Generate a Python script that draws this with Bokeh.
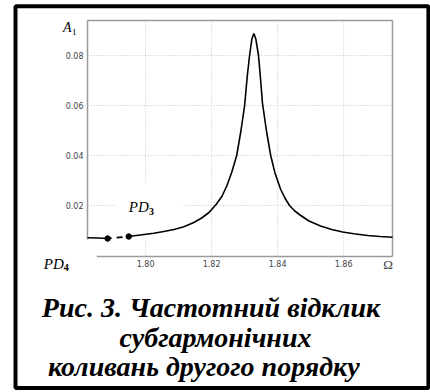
from bokeh.plotting import figure
from bokeh.models import Range1d
from bokeh.core.properties import value
from bokeh.embed import file_html
from bokeh.resources import INLINE

# ---- data ----
omega_left = [1.7824, 1.7855, 1.7885]
a_left = [0.00708, 0.0070, 0.0068]

omega_unstable = [1.7885, 1.7949]
a_unstable = [0.0068, 0.0076]

omega_main = [1.7949, 1.7995, 1.8025, 1.8055, 1.8086, 1.8116, 1.8146, 1.8170, 1.8192,
              1.8213, 1.8231, 1.8246, 1.8261, 1.8276, 1.8289, 1.8300, 1.8308, 1.8315,
              1.8322, 1.8328, 1.8334, 1.8342, 1.8348, 1.8354, 1.8366, 1.8379, 1.8392,
              1.8409, 1.8422, 1.8436, 1.8452, 1.8470, 1.8495, 1.8530, 1.8564, 1.8597,
              1.8631, 1.8673, 1.8710, 1.8748]
a_main = [0.0076, 0.0084, 0.0089, 0.0096, 0.0104, 0.0115, 0.0132, 0.0150, 0.0172,
          0.0203, 0.0236, 0.0278, 0.0333, 0.0400, 0.0500, 0.0600, 0.0717, 0.0800,
          0.0866, 0.0888, 0.0866, 0.0800, 0.0710, 0.0610, 0.0500, 0.0400, 0.0330,
          0.0265, 0.0230, 0.0200, 0.0178, 0.0160, 0.0138, 0.0118, 0.0104, 0.0094,
          0.0087, 0.0080, 0.0076, 0.0073]

pd_omega = [1.7885, 1.7949]
pd_a = [0.0068, 0.0076]

x_ticks = [1.80, 1.82, 1.84, 1.86]
x_tick_labels = ["1.80", "1.82", "1.84", "1.86"]
y_ticks = [0.02, 0.04, 0.06, 0.08]
y_tick_labels = ["0.02", "0.04", "0.06", "0.08"]

caption = ["Рис. 3. Частотний відклик", "субгармонічних", "коливань другого порядку"]

# ---- layout constants (pixels) ----
W, H = 430, 392
FL, FR, FT, FB = 87, 392, 20, 256          # chart frame in pixels
X0, X1 = 1.7824, 1.8748                    # data range of chart frame
Y0, Y1 = -0.0004, 0.094
kx = (FR - FL) / (X1 - X0)
ky = (FB - FT) / (Y1 - Y0)

p = figure(width=W, height=H, output_backend="svg", toolbar_location=None,
           x_axis_location=None, y_axis_location=None,
           x_range=Range1d(X0 - FL / kx, X1 + (W - FR) / kx),
           y_range=Range1d(Y0 - (H - FB) / ky, Y1 + FT / ky),
           min_border=0)
p.title.visible = False
p.outline_line_color = None
p.background_fill_color = "white"
p.border_fill_color = "white"
p.grid.visible = False
p.extra_x_ranges = {"px": Range1d(0, W)}
p.extra_y_ranges = {"px": Range1d(H, 0)}

# grid (dotted)
grid_kw = dict(line_color="#c4c4c4", line_dash="1 2", line_width=1)
p.segment(x0=x_ticks, y0=[Y0] * len(x_ticks), x1=x_ticks, y1=[Y1] * len(x_ticks), **grid_kw)
p.segment(x0=[X0] * len(y_ticks), y0=y_ticks, x1=[X1] * len(y_ticks), y1=y_ticks, **grid_kw)

# white patch behind PD3 label (hides grid there)
p.quad(left=[115], right=[182], top=[183], bottom=[232], x_range_name="px", y_range_name="px",
       fill_color="white", line_color=None)

# chart frame (bottom-left corner left open as in the original)
frame_kw = dict(line_color="#9a9a9a", line_width=1.5)
p.segment(x0=[X0, X1, X0, 1.7852], y0=[Y1, Y0, 0.0064, Y0],
          x1=[X1, X1, X0, X1], y1=[Y1, Y1, Y1, Y0], **frame_kw)

# tick labels
tick_kw = dict(text_font=value("DejaVu Sans"), text_font_size="8px", text_color="#444444")
p.text(x=x_ticks, y=[Y0] * len(x_ticks), text=x_tick_labels, y_offset=3,
       text_align="center", text_baseline="top", **tick_kw)
p.text(x=[X0] * len(y_ticks), y=y_ticks, text=y_tick_labels, x_offset=-4,
       text_align="right", text_baseline="middle", **tick_kw)

# curve
p.line(omega_left, a_left, line_color="black", line_width=1.6)
p.line(omega_unstable, a_unstable, line_color="black", line_width=1.6, line_dash="6 5", line_dash_offset=2)
p.line(omega_main, a_main, line_color="black", line_width=1.6)
p.scatter(pd_omega, pd_a, size=5.5, color="black")


def lab(text, x, y, size, style="normal", font="Liberation Serif", color="black", align="left"):
    p.text(x=[x], y=[y], text=[text], x_range_name="px", y_range_name="px",
           text_font=value(font), text_font_size=size, text_font_style=style,
           text_color=color, text_align=align, text_baseline="alphabetic")


# axis symbols
lab("A", 62.5, 27, "14px", "italic")
lab("1", 71.5, 31, "9px")
lab("Ω", 387.7, 264, "13px", color="#444444", align="center")

# PD labels
lab("PD", 128.3, 206.7, "15px", "italic")
lab("3", 148.5, 211, "10px", "bold")
lab("PD", 43.3, 263.3, "15px", "italic")
lab("4", 63.3, 267.4, "10px", "bold")

# caption
lab(caption[0], 210.5, 306.8, "28px", "bold italic", align="center")
lab(caption[1], 215, 336.8, "28px", "bold italic", align="center")
lab(caption[2], 203.3, 365.8, "28px", "bold italic", align="center")

# outer black border
p.quad(left=[15], right=[427.9], top=[5.7], bottom=[387.5], x_range_name="px", y_range_name="px",
       fill_color=None, line_color="black", line_width=4)

open("out.html", "w").write(file_html(p, INLINE))
